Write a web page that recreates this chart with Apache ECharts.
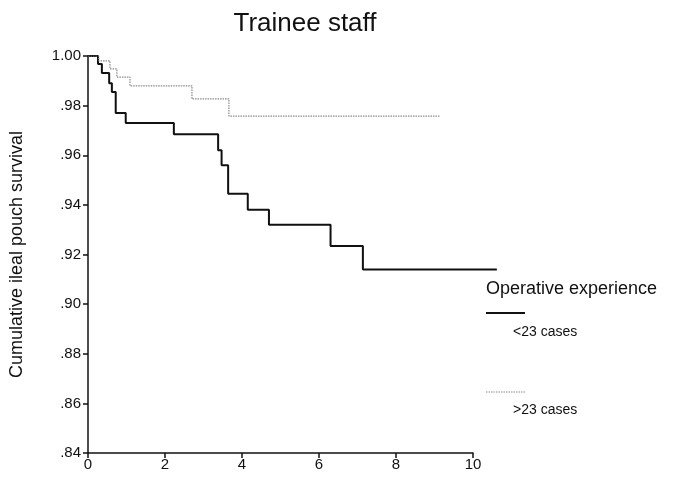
<!DOCTYPE html>
<html>
<head>
<meta charset="utf-8">
<script src="https://cdn.jsdelivr.net/npm/echarts@6/dist/echarts.min.js"></script>
<style>
  html, body { margin: 0; padding: 0; background: #fff; }
  #chart { width: 681px; height: 477px; }
</style>
</head>
<body>
<div id="chart"></div>
<script>
// survival curves, [years, cumulative survival]
const lowCases = [
  [0, 1.0], [0.26, 0.9968], [0.36, 0.9931], [0.55, 0.989], [0.62, 0.9855],
  [0.72, 0.977], [0.98, 0.973], [2.23, 0.9685], [3.38, 0.962], [3.47, 0.956],
  [3.64, 0.9445], [4.15, 0.938], [4.7, 0.932], [6.3, 0.9234], [7.14, 0.914],
  [10.62, 0.914]
]
const highCases = [
  [0, 1.0], [0.28, 0.998], [0.57, 0.9948], [0.75, 0.9915], [1.09, 0.988],
  [2.7, 0.9827], [3.66, 0.9758], [9.14, 0.9758]
]
const seriesNames = ['<23 cases', '>23 cases']
const legendTitle = 'Operative experience'

const font = '"Liberation Sans", Arial, sans-serif'
const chart = echarts.init(document.getElementById('chart'))

// grid 0 carries the visible axes (0..10), grid 1 is the same plot stretched
// to 11 so the last black step can run past the end of the x axis
const pxPerYear = (681 - 88 - 208) / 10

chart.setOption({
  backgroundColor: '#fff',
  animation: false,
  title: {
    text: 'Trainee staff',
    left: 300,
    textAlign: 'center',
    top: 6,
    textStyle: { fontFamily: font, fontSize: 26, fontWeight: 'normal', color: '#111' }
  },
  grid: [
    { left: 88, right: 208, top: 56, bottom: 24, outerBoundsMode: 'none' },
    { left: 88, right: 208 - pxPerYear, top: 56, bottom: 24, outerBoundsMode: 'none' }
  ],
  xAxis: [
    {
      type: 'value',
      gridIndex: 0,
      min: 0,
      max: 10,
      interval: 2,
      axisLine: { lineStyle: { color: '#111', width: 1.5 } },
      axisTick: { length: 5, lineStyle: { color: '#111', width: 1.5 } },
      axisLabel: { fontFamily: font, fontSize: 15, color: '#111', margin: 4 },
      splitLine: { show: false }
    },
    {
      type: 'value',
      gridIndex: 1,
      min: 0,
      max: 11,
      show: false
    }
  ],
  yAxis: [
    {
      type: 'value',
      gridIndex: 0,
      min: 0.84,
      max: 1.0,
      interval: 0.02,
      name: 'Cumulative ileal pouch survival',
      nameLocation: 'middle',
      nameGap: 62,
      nameTextStyle: { fontFamily: font, fontSize: 18, color: '#111' },
      axisLine: { show: true, lineStyle: { color: '#111', width: 1.5 } },
      axisTick: { show: true, length: 5, lineStyle: { color: '#111', width: 1.5 } },
      axisLabel: {
        fontFamily: font, fontSize: 15, color: '#111', margin: 7,
        formatter: v => {
          const s = v.toFixed(2)
          return s.startsWith('0') ? s.slice(1) : s
        }
      },
      splitLine: { show: false }
    },
    {
      type: 'value',
      gridIndex: 1,
      min: 0.84,
      max: 1.0,
      show: false
    }
  ],
  series: [
    {
      name: seriesNames[0],
      type: 'line',
      step: 'end',
      xAxisIndex: 1,
      yAxisIndex: 1,
      data: lowCases,
      showSymbol: false,
      lineStyle: { color: '#111', width: 2 }
    },
    {
      name: seriesNames[1],
      type: 'line',
      step: 'end',
      xAxisIndex: 1,
      yAxisIndex: 1,
      data: highCases,
      showSymbol: false,
      lineStyle: { color: '#8a8a8a', width: 1.2, type: [1.5, 1] }
    }
  ],
  graphic: [
    {
      type: 'text', left: 486, top: 280,
      style: { text: legendTitle, fontFamily: font, fontSize: 18, fill: '#111' }
    },
    {
      type: 'line', shape: { x1: 486, y1: 313, x2: 525, y2: 313 },
      style: { stroke: '#111', lineWidth: 2 }
    },
    {
      type: 'text', left: 513, top: 325,
      style: { text: seriesNames[0], fontFamily: font, fontSize: 14, fill: '#111' }
    },
    {
      type: 'line', shape: { x1: 486, y1: 392, x2: 525, y2: 392 },
      style: { stroke: '#8a8a8a', lineWidth: 1.2, lineDash: [1.5, 1] }
    },
    {
      type: 'text', left: 513, top: 403,
      style: { text: seriesNames[1], fontFamily: font, fontSize: 14, fill: '#111' }
    }
  ]
})
</script>
</body>
</html>
